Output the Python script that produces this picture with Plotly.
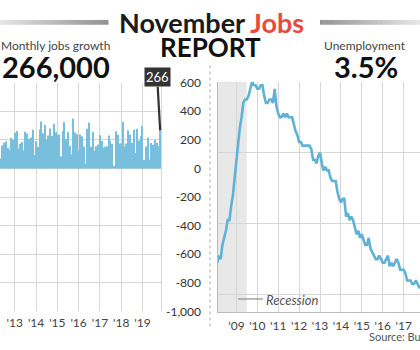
import plotly.graph_objects as go
import pandas as pd

# ---------------- data ----------------
job_months = pd.date_range("2012-01-01", "2019-11-01", freq="MS")
jobs = [
    360, 226, 243, 116, 70, 160, 180, 190, 145, 130, 215, 200,      # 2012
    250, 262, 140, 173, 185, 127, 256, 245, 207, 216, 270, 94,      # 2013
    190, 151, 272, 329, 246, 304, 202, 230, 280, 227, 312, 255,     # 2014
    234, 238, 86, 262, 325, 206, 254, 157, 100, 347, 252, 239,      # 2015
    126, 237, 225, 153, 35, 277, 321, 152, 256, 124, 155, 168,      # 2016
    232, 192, 147, 152, 155, 231, 194, 173, 18, 260, 236, 174,      # 2017
    176, 324, 155, 175, 268, 235, 179, 270, 108, 277, 196, 227,     # 2018
    299, 60, 153, 216, 62, 178, 166, 200, 180, 156, 266,            # 2019
]

unemp_months = pd.date_range("2008-01-01", "2019-11-01", freq="MS")
unemp = [
    5.0, 4.9, 5.1, 5.0, 5.4, 5.6, 5.8, 6.1, 6.1, 6.5, 6.8, 7.3,     # 2008
    7.8, 8.3, 8.7, 9.0, 9.4, 9.5, 9.5, 9.6, 9.8, 10.0, 9.9, 9.9,    # 2009
    9.8, 9.8, 9.9, 9.9, 9.6, 9.4, 9.4, 9.5, 9.5, 9.4, 9.8, 9.3,     # 2010
    9.1, 9.0, 9.0, 9.1, 9.0, 9.1, 9.0, 9.0, 9.0, 8.8, 8.6, 8.5,     # 2011
    8.3, 8.3, 8.2, 8.2, 8.2, 8.2, 8.2, 8.1, 7.8, 7.8, 7.7, 7.9,     # 2012
    8.0, 7.7, 7.5, 7.6, 7.5, 7.5, 7.3, 7.2, 7.2, 7.2, 6.9, 6.7,     # 2013
    6.6, 6.7, 6.7, 6.2, 6.3, 6.1, 6.2, 6.1, 5.9, 5.7, 5.8, 5.6,     # 2014
    5.7, 5.5, 5.4, 5.4, 5.6, 5.3, 5.2, 5.1, 5.0, 5.0, 5.1, 5.0,     # 2015
    4.9, 4.9, 5.0, 5.1, 4.8, 4.9, 4.8, 4.9, 5.0, 4.9, 4.7, 4.7,     # 2016
    4.7, 4.6, 4.4, 4.4, 4.4, 4.3, 4.3, 4.4, 4.3, 4.2, 4.2, 4.1,     # 2017
    4.1, 4.1, 4.0, 4.0, 3.8, 4.0, 3.8, 3.8, 3.7, 3.8, 3.8, 3.9,     # 2018
    4.0, 3.8, 3.8, 3.6, 3.6, 3.7, 3.7, 3.7, 3.5, 3.6, 3.5,          # 2019
]

left_tick_dates = ["2013-01-01", "2014-01-01", "2015-01-01", "2016-01-01",
                   "2017-01-01", "2018-01-01", "2019-01-01"]
left_tick_text = ["'13", "'14", "'15", "'16", "'17", "'18", "'19"]
right_tick_dates = ["2009-01-01", "2010-01-01", "2011-01-01", "2012-01-01",
                    "2013-01-01", "2014-01-01", "2015-01-01", "2016-01-01",
                    "2017-01-01", "2018-01-01"]
right_tick_text = ["'09", "'10", "'11", "'12", "'13", "'14", "'15", "'16", "'17", "'18"]
jobs_ticks = [600, 400, 200, 0, -200, -400, -600, -800, -1000]
jobs_tick_text = ["600", "400", "200", "0", "-200", "-400", "-600", "-800", "-1,000"]
unemp_ticks = [4, 6, 8, 10]
recession = ("2007-12-01", "2009-06-30")

# ---------------- figure ----------------
W, H = 420, 350
FONT = "Lato, 'Open Sans', sans-serif"
GRID = "#d6d6d6"
BLUE = "#5fb2d6"


def px(x):
    return x / W


def py(y):
    return 1 - y / H


fig = go.Figure()
fig.add_trace(go.Bar(x=job_months, y=jobs, marker=dict(color="#78bfdd", line=dict(width=0)),
                     xaxis="x", yaxis="y", hoverinfo="skip", showlegend=False))
fig.add_trace(go.Scatter(x=[job_months[-1]], y=[jobs[-1]], mode="markers",
                         marker=dict(opacity=0), xaxis="x", yaxis="y3",
                         hoverinfo="skip", showlegend=False))
fig.add_trace(go.Scatter(x=unemp_months, y=unemp, mode="lines",
                         line=dict(color=BLUE, width=2.6),
                         xaxis="x2", yaxis="y2", hoverinfo="skip", showlegend=False))

shapes = []
# recession shading
shapes.append(dict(type="rect", xref="x2", yref="y2 domain", x0=recession[0], x1=recession[1],
                   y0=0, y1=1, fillcolor="#e8e8e8", line=dict(width=0), layer="below"))
# recession legend line
shapes.append(dict(type="line", xref="paper", yref="paper", x0=px(238), x1=px(263),
                   y0=py(304), y1=py(304), line=dict(color="#777", width=1)))
# dotted divider
shapes.append(dict(type="line", xref="paper", yref="paper", x0=px(210), x1=px(210),
                   y0=py(60), y1=py(335), line=dict(color="#aaa", width=1, dash="dot")))
# gradient header bars
n = 24
for i in range(n):
    t = i / (n - 1)
    c = int(228 - 80 * t)
    x0 = 0 + 108 * i / n
    x1 = 0 + 108 * (i + 1) / n + 0.5
    shapes.append(dict(type="rect", xref="paper", yref="paper", x0=px(x0), x1=px(x1),
                       y0=py(17.5), y1=py(12.5), fillcolor=f"rgb({c},{c},{c})", line=dict(width=0)))
    c2 = int(150 + 80 * t)
    x0 = 320 + 100 * i / n
    x1 = 320 + 100 * (i + 1) / n + 0.5
    shapes.append(dict(type="rect", xref="paper", yref="paper", x0=px(x0), x1=px(x1),
                       y0=py(17.5), y1=py(12.5), fillcolor=f"rgb({c2},{c2},{c2})", line=dict(width=0)))

annotations = [
    dict(text="<b>November <span style='color:#ea4a3c'>Jobs</span></b>", x=px(211.5), y=py(15),
         font=dict(size=27, color="#1a1a1a", family=FONT)),
    dict(text="<b>REPORT</b>", x=px(210), y=py(41), font=dict(size=26, color="#111", family=FONT)),
    dict(text="Monthly jobs growth", x=px(55.5), y=py(39), font=dict(size=12, color="#444", family=FONT)),
    dict(text="<b>266,000</b>", x=px(111), y=py(61), xanchor="right",
         font=dict(size=29, color="#111", family=FONT)),
    dict(text="Unemployment", x=px(365), y=py(39), font=dict(size=12, color="#444", family=FONT)),
    dict(text="<b>3.5%</b>", x=px(366), y=py(61), font=dict(size=29, color="#111", family=FONT)),
    dict(text="<i>Recession</i>", x=px(265), y=py(305), xanchor="left",
         font=dict(size=13, color="#555", family=FONT)),
    dict(text="Source: Bureau of Labor Statistics", x=px(368), y=py(335), xanchor="left",
         yanchor="top", font=dict(size=11, color="#555", family=FONT)),
]
for a in annotations:
    a.setdefault("xref", "paper")
    a.setdefault("yref", "paper")
    a.setdefault("xanchor", "center")
    a.setdefault("yanchor", "middle")
    a["showarrow"] = False
    a["borderpad"] = 0

annotations.append(dict(
    text="266", x=job_months[-1], y=jobs[-1], xref="x", yref="y",
    ax=-3, ay=-53, showarrow=True, arrowhead=0, arrowwidth=2.2, arrowcolor="#333",
    bgcolor="#333", borderpad=1, font=dict(size=13, color="white", family=FONT),
))

fig.update_layout(
    width=W, height=H, margin=dict(l=0, r=0, t=0, b=0),
    paper_bgcolor="white", plot_bgcolor="rgba(0,0,0,0)",
    font=dict(family=FONT, color="#333"),
    bargap=0.38, showlegend=False,
    shapes=shapes, annotations=annotations,
    xaxis=dict(domain=[0, px(161)], type="date", range=["2012-04-22", "2019-11-15"],
               tickvals=left_tick_dates, ticktext=left_tick_text, ticks="",
               ticklabelstandoff=3,
               showgrid=True, gridcolor=GRID, gridwidth=1, zeroline=False, showline=False,
               tickfont=dict(size=12, color="#444"), anchor="y"),
    yaxis=dict(domain=[py(317), py(78)], range=[-1000, 600], tickvals=jobs_ticks,
               showticklabels=False, showgrid=True, gridcolor=GRID, zeroline=False,
               side="right", showline=True, linecolor=GRID, anchor="x"),
    yaxis3=dict(overlaying="y", anchor="free", position=px(201), side="left",
                range=[-1000, 600], tickvals=jobs_ticks, ticktext=jobs_tick_text,
                showgrid=False, zeroline=False, showline=False, ticks="",
                tickfont=dict(size=12, color="#333")),
    xaxis2=dict(domain=[px(218), 1], type="date", range=["2008-02-14", "2017-10-13"],
                tickvals=right_tick_dates, ticktext=right_tick_text, ticks="",
                ticklabelstandoff=2,
                showgrid=True, gridcolor=GRID, zeroline=False, showline=True, linecolor="#bbb",
                tickfont=dict(size=12, color="#444"), anchor="y2"),
    yaxis2=dict(domain=[py(318), py(77)], range=[3.5, 10], tickvals=unemp_ticks,
                showticklabels=False, showgrid=True, gridcolor=GRID, zeroline=False,
                showline=True, linecolor="#bbb", anchor="x2"),
)

fig.write_html("out.html")
